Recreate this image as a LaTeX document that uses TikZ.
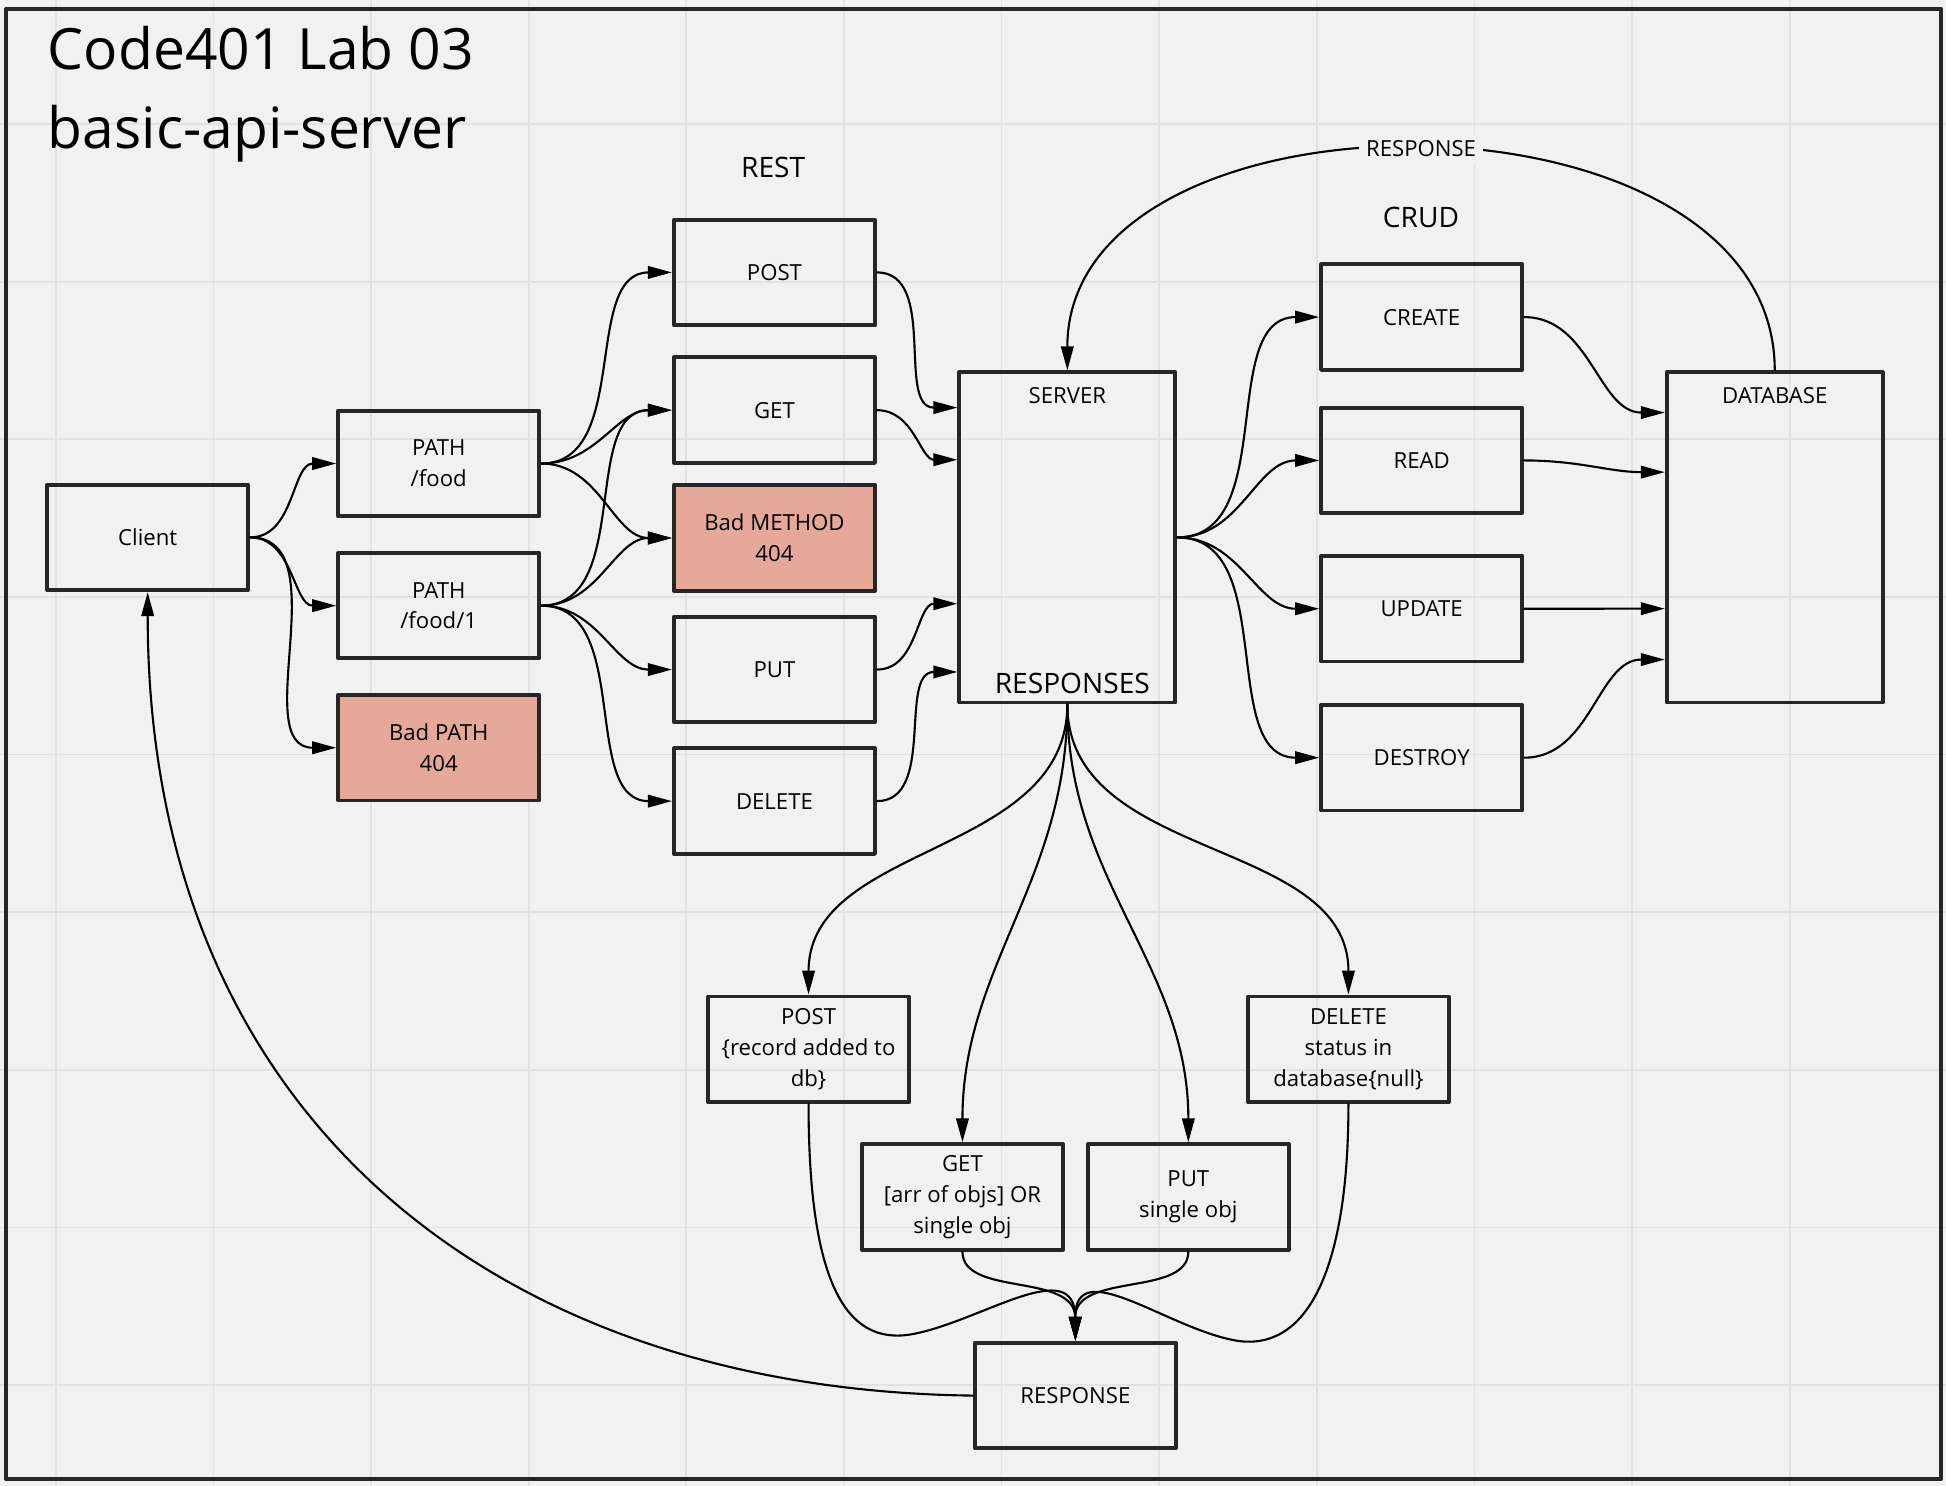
\documentclass[tikz,border=0pt]{standalone}
\usepackage{fontspec}
\setmainfont{Open Sans}
\usetikzlibrary{arrows.meta}
\definecolor{bg}{HTML}{F1F1F1}
\definecolor{gridc}{HTML}{E2E2E2}
\definecolor{bad}{HTML}{E6A899}
\definecolor{ink}{HTML}{262626}

\begin{document}
\begin{tikzpicture}[x=0.01241cm,y=-0.01241cm,line cap=round,line join=round,
    >={Triangle[length=2.4mm,width=1.25mm]},
    box/.style={draw=ink,line width=1.1pt,minimum width=2.01cm,minimum height=1.055cm,
      align=center,inner sep=0pt,font=\fontsize{6.3}{8.8}\selectfont},
    badbox/.style={box,fill=bad},
    tall/.style={draw=ink,line width=1.1pt,minimum width=2.16cm,minimum height=3.30cm,inner sep=0pt},
    lbl/.style={inner sep=0pt,font=\fontsize{6.3}{8.8}\selectfont},
    big/.style={inner sep=0pt,font=\fontsize{8}{10}\selectfont},
    conn/.style={->,line width=0.6pt}]
        \useasboundingbox (0,0) rectangle (1568,1197);
        % board and grid
        \fill[bg] (0,0) rectangle (1568,1197);
        \foreach \x in {45,172,...,1442}
        \draw[gridc,line width=0.5pt] (\x,0) -- (\x,1197);
        \foreach \y in {100,227,...,1116}
        \draw[gridc,line width=0.5pt] (0,\y) -- (1568,\y);
        \draw[ink,line width=1.2pt] (5,7) rectangle (1564,1192);
        \node[anchor=base west,inner sep=0pt,font=\fontsize{16.2}{22}\selectfont] (title) at (38,56) {Code401 Lab 03};
        \node[anchor=base west,inner sep=0pt,font=\fontsize{16.2}{22}\selectfont] (subtitle) at (38,120) {basic-api-server};
        \node[big] (rest) at (623,135) {REST};
        \node[big] (crud) at (1145,175) {CRUD};
        % client and paths
        \node[box] (client) at (119,433) {Client};
        \node[box] (pfood) at (353.5,373.5) {PATH\\/food};
        \node[box] (pfood1) at (353.5,488) {PATH\\/food/1};
        \node[badbox] (badpath) at (353.5,602.5) {Bad PATH\\404};
        % methods
        \node[box] (post) at (624,219.5) {POST};
        \node[box] (get) at (624,330.5) {GET};
        \node[badbox] (badmeth) at (624,433.5) {Bad METHOD\\404};
        \node[box] (put) at (624,539.5) {PUT};
        \node[box] (delete) at (624,645.5) {DELETE};
        % server
        \node[tall] (server) at (860,433) {};
        \node[lbl] (serverlbl) at (860,319) {SERVER};
        \node[big] (resplbl) at (864,551) {RESPONSES};
        % crud and database
        \node[box] (create) at (1145.5,255.5) {CREATE};
        \node[box] (read) at (1145.5,371) {READ};
        \node[box] (update) at (1145.5,490.5) {UPDATE};
        \node[box] (destroy) at (1145.5,610.5) {DESTROY};
        \node[tall] (db) at (1430,433) {};
        \node[lbl] (dblbl) at (1430,319) {DATABASE};
        % responses
        \node[box] (rpost) at (651.5,845.5) {POST\\\{record added to\\db\}};
        \node[box] (rget) at (775.5,964.5) {GET\\{[}arr of objs{]} OR\\single obj};
        \node[box] (rput) at (957.5,964.5) {PUT\\single obj};
        \node[box] (rdel) at (1086.5,845.5) {DELETE\\status in\\database\{null\}};
        \node[box] (resp) at (866.5,1124.5) {RESPONSE};
        % connectors
        \draw[conn] (client.east) to[out=0,in=180] (pfood.west);
        \draw[conn] (client.east) to[out=0,in=180] (pfood1.west);
        \draw[conn] (client.east) to[out=0,in=180] (badpath.west);
        \foreach \t in {post,get,badmeth}
        \draw[conn] (pfood.east) to[out=0,in=180] (\t.west);
        \foreach \t in {get,badmeth,put,delete}
        \draw[conn] (pfood1.east) to[out=0,in=180] (\t.west);
        \draw[conn] (post.east) to[out=0,in=180] ([shift={(0,30)}]server.north west);
        \draw[conn] (get.east) to[out=0,in=180] ([shift={(0,72)}]server.north west);
        \draw[conn] (put.east) to[out=0,in=180] ([shift={(0,188)}]server.north west);
        \draw[conn] (delete.east) to[out=0,in=180] ([shift={(0,243)}]server.north west);
        \foreach \t in {create,read,update,destroy}
        \draw[conn] (server.east) to[out=0,in=180] (\t.west);
        \draw[conn] (create.east) to[out=0,in=180] ([shift={(0,34)}]db.north west);
        \draw[conn] (read.east) to[out=0,in=180] ([shift={(0,82)}]db.north west);
        \draw[conn] (update.east) to[out=0,in=180] ([shift={(0,192)}]db.north west);
        \draw[conn] (destroy.east) to[out=0,in=180] ([shift={(0,233)}]db.north west);
        \draw[conn] (db.north) to[out=90,in=90,looseness=1.07]
          node[lbl,fill=bg,inner sep=2pt] (arclbl) {RESPONSE} (server.north);
        \foreach \t in {rpost,rget,rput,rdel}
        \draw[conn] (server.south) to[out=-90,in=90] (\t.north);
        \draw[conn] (rpost.south) .. controls (651.5,1030) and (680,1085) .. (735,1075)
          .. controls (790,1065) and (866,1010) .. (resp.north);
        \draw[conn] (rget.south) .. controls (775.5,1045) and (866,1025) .. (resp.north);
        \draw[conn] (rput.south) .. controls (957.5,1045) and (866,1025) .. (resp.north);
        \draw[conn] (rdel.south) .. controls (1086.5,1030) and (1050,1090) .. (995,1080)
          .. controls (940,1070) and (866,1010) .. (resp.north);
        \draw[conn] (resp.west) .. controls (400,1120) and (119,900) .. (client.south);
\end{tikzpicture}
\end{document}
